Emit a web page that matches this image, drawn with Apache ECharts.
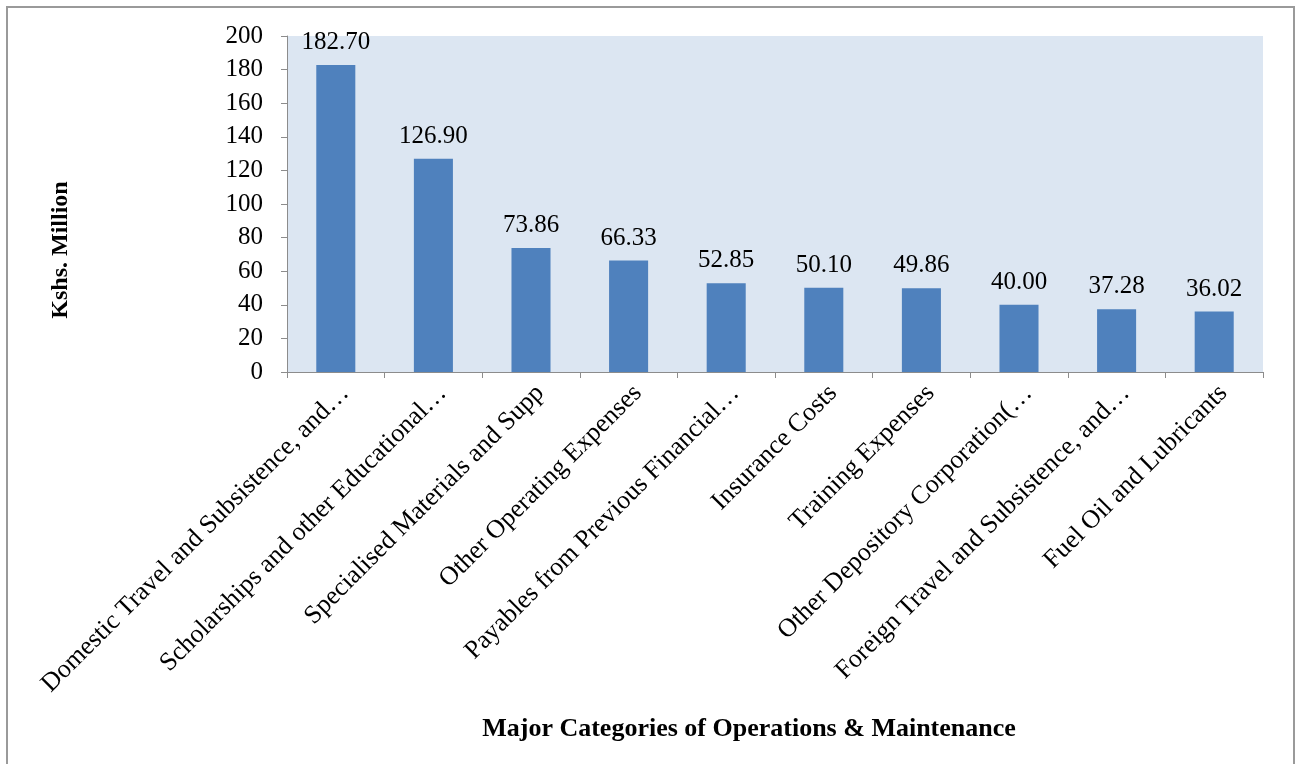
<!DOCTYPE html>
<html>
<head>
<meta charset="utf-8">
<script src="https://cdn.jsdelivr.net/npm/echarts@6/dist/echarts.min.js"></script>
<style>
html,body{margin:0;padding:0;background:#fff;}
#chart{width:1301px;height:764px;}
</style>
</head>
<body>
<div id="chart"></div>
<script>
const categories = [
  "Domestic Travel and Subsistence, and\u2026",
  "Scholarships and other Educational\u2026",
  "Specialised Materials and Supp",
  "Other Operating Expenses",
  "Payables from Previous Financial\u2026",
  "Insurance Costs",
  "Training Expenses",
  "Other Depository Corporation(\u2026",
  "Foreign Travel and Subsistence, and\u2026",
  "Fuel Oil and Lubricants"
];
const values = [182.70, 126.90, 73.86, 66.33, 52.85, 50.10, 49.86, 40.00, 37.28, 36.02];
const yTicks = [0, 20, 40, 60, 80, 100, 120, 140, 160, 180, 200];
const yAxisName = "Kshs. Million";
const xAxisName = "Major Categories of Operations & Maintenance";

const font = "'Liberation Serif', 'Times New Roman', serif";
const chart = echarts.init(document.getElementById('chart'), null, {renderer: 'canvas'});
chart.setOption({
  backgroundColor: '#ffffff',
  animation: false,
  textStyle: {fontFamily: font},
  graphic: [
    {type: 'rect', silent: true, shape: {x: 7, y: 7, width: 1287, height: 800},
     style: {fill: 'none', stroke: '#9a9a9a', lineWidth: 2}},
    {type: 'text', x: 749, y: 729,
     style: {text: xAxisName, font: "bold 26px " + font, fill: '#000', align: 'center', verticalAlign: 'middle'}},
    {type: 'text', x: 61, y: 250, rotation: Math.PI / 2, originX: 0, originY: 0,
     style: {text: yAxisName, font: "bold 24px " + font, fill: '#000', align: 'center', verticalAlign: 'middle'}}
  ],
  grid: {left: 287, right: 38, top: 36, bottom: 392, backgroundColor: '#dce6f2', show: true, borderWidth: 0},
  xAxis: {
    type: 'category',
    data: categories,
    boundaryGap: true,
    axisLine: {lineStyle: {color: '#8c8c8c', width: 1}},
    axisTick: {show: true, alignWithLabel: false, length: 6, lineStyle: {color: '#8c8c8c'}},
    axisLabel: {rotate: 45, interval: 0, margin: 8, color: '#000', fontSize: 26, fontFamily: font,
      verticalAlign: 'top'}
  },
  yAxis: {
    type: 'value',
    min: 0, max: 200, interval: 20,
    axisLine: {show: true, lineStyle: {color: '#8c8c8c', width: 1}},
    axisTick: {show: true, length: 6, lineStyle: {color: '#8c8c8c'}},
    splitLine: {show: false},
    axisLabel: {color: '#000', fontSize: 25, fontFamily: font, margin: 24,
      formatter: v => yTicks.includes(v) ? String(v) : ''}
  },
  series: [{
    type: 'bar',
    data: values,
    barWidth: '40%',
    itemStyle: {color: '#4f81bd'},
    label: {show: true, position: 'top', distance: 10, color: '#000', fontSize: 25, fontFamily: font,
      formatter: p => p.value.toFixed(2)}
  }]
});
</script>
</body>
</html>
